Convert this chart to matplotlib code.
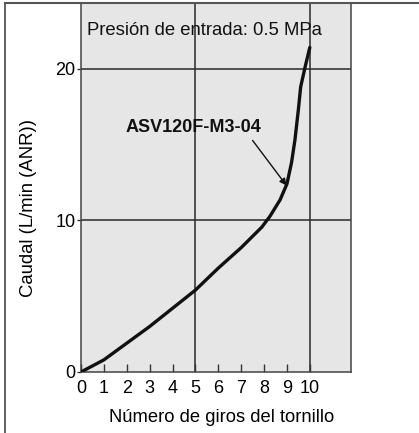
import matplotlib
matplotlib.use("Agg")
import matplotlib.pyplot as plt
from matplotlib.lines import Line2D

plt.rcParams["font.family"] = ["Liberation Sans", "DejaVu Sans"]

# curve (turns vs. flow L/min ANR)
turns = [0, 1, 2, 3, 4, 5, 6, 7, 7.5, 7.9, 8.25, 8.7, 9.0, 9.2, 9.35, 9.5, 9.6, 9.8, 10.0]
flow = [0, 0.8, 1.9, 3.0, 4.2, 5.4, 6.85, 8.2, 8.95, 9.55, 10.25, 11.35, 12.4, 13.8, 15.3, 17.3, 18.8, 20.15, 21.4]

x_ticks = list(range(0, 11))
y_ticks = [0, 10, 20]
grid_x = [5, 10]
grid_y = [10, 20]

label_model = "ASV120F-M3-04"
label_pressure = "Presión de entrada: 0.5 MPa"

fig = plt.figure(figsize=(4.19, 4.33), dpi=100)
ax = fig.add_axes([0.1933, 0.1409, 0.6444, 0.851])
ax.set_facecolor("#e6e6e7")

for gx in grid_x:
    ax.axvline(gx, color="#2a2a2a", linewidth=1.1, zorder=1)
for gy in grid_y:
    ax.axhline(gy, color="#2a2a2a", linewidth=1.1, zorder=1)

ax.plot(turns, flow, color="#111111", linewidth=2.4, solid_capstyle="round",
        solid_joinstyle="round", zorder=3)

ax.text(7.9, 15.55, label_model, fontsize=13, fontweight="bold", ha="right",
        va="bottom", color="#111111")
ax.annotate("", xy=(8.98, 12.3), xytext=(7.5, 15.27),
            arrowprops=dict(arrowstyle="-|>", color="#111111", lw=1.0,
                            mutation_scale=10, shrinkA=0, shrinkB=0))

ax.text(0.25, 22.5, label_pressure, fontsize=13.3, ha="left", va="center", color="#111111")

ax.set_xlim(0, 11.8)
ax.set_ylim(0, 24.3)
ax.set_xticks(x_ticks)
ax.set_xticklabels([str(t) for t in x_ticks])
ax.set_yticks(y_ticks)
ax.set_yticklabels([str(t) for t in y_ticks])
ax.tick_params(axis="x", direction="in", length=6, width=1.0, color="#333333",
               labelsize=13, pad=6)
ax.tick_params(axis="y", direction="out", length=3, width=1.0, color="#333333",
               labelsize=13, pad=1)

for side in ["left", "right", "bottom"]:
    ax.spines[side].set_color("#444444")
    ax.spines[side].set_linewidth(1.1)
ax.spines["top"].set_visible(False)

ax.set_xlabel("Número de giros del tornillo", fontsize=13.2)
ax.set_ylabel("Caudal (L/min (ANR))", fontsize=13.3)
ax.xaxis.set_label_coords(0.522, -0.1)
ax.yaxis.set_label_coords(-0.163, 0.446)

# outer frame (left and top only)
fig.add_artist(Line2D([5 / 419, 5 / 419], [0, 1 - 3 / 433], transform=fig.transFigure,
                      color="#555555", linewidth=1.3))
fig.add_artist(Line2D([5 / 419, 1], [1 - 3 / 433, 1 - 3 / 433], transform=fig.transFigure,
                      color="#555555", linewidth=1.5))

fig.savefig("out.png", dpi=100)
